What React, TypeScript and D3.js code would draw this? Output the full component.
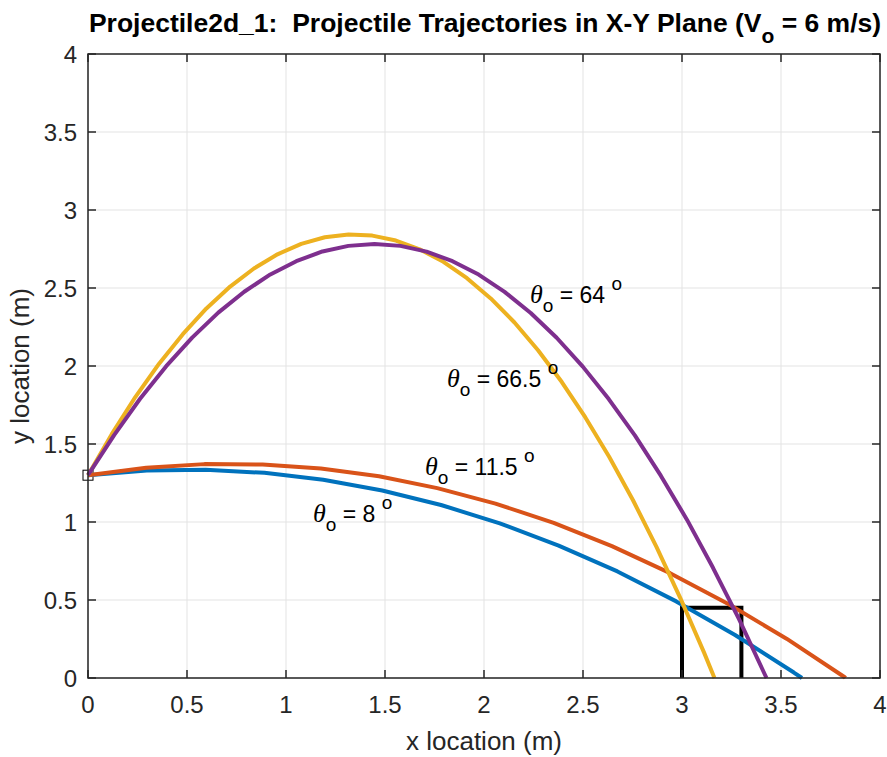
import React from 'react';
import * as d3 from 'd3';

// trajectories sampled every 0.05 s, V0 = 6 m/s, launched from y = 1.3 m
const traj8 = [
  [0, 1.3], [0.297, 1.33], [0.594, 1.335], [0.891, 1.315], [1.188, 1.271], [1.486, 1.202],
  [1.783, 1.109], [2.08, 0.991], [2.377, 0.849], [2.674, 0.683], [2.971, 0.491],
  [3.268, 0.276], [3.565, 0.035], [3.606, 0],
];
const traj11 = [
  [0, 1.3], [0.294, 1.348], [0.588, 1.371], [0.882, 1.369], [1.176, 1.343], [1.47, 1.293],
  [1.764, 1.217], [2.058, 1.118], [2.352, 0.994], [2.646, 0.845], [2.94, 0.672],
  [3.234, 0.474], [3.528, 0.252], [3.822, 0.005], [3.825, 0],
];
const traj66 = [
  [0, 1.3], [0.12, 1.563], [0.239, 1.801], [0.359, 2.015], [0.479, 2.204], [0.598, 2.369],
  [0.718, 2.509], [0.838, 2.625], [0.957, 2.716], [1.077, 2.783], [1.196, 2.825],
  [1.316, 2.843], [1.436, 2.836], [1.555, 2.804], [1.675, 2.748], [1.795, 2.668],
  [1.914, 2.563], [2.034, 2.433], [2.154, 2.279], [2.273, 2.101], [2.393, 1.897],
  [2.512, 1.67], [2.632, 1.418], [2.752, 1.141], [2.871, 0.84], [2.991, 0.514],
  [3.111, 0.164], [3.164, 0],
];
const traj64 = [
  [0, 1.3], [0.132, 1.557], [0.263, 1.79], [0.395, 1.999], [0.526, 2.182], [0.658, 2.342],
  [0.789, 2.476], [0.921, 2.587], [1.052, 2.672], [1.184, 2.734], [1.315, 2.77],
  [1.447, 2.782], [1.578, 2.77], [1.71, 2.733], [1.841, 2.672], [1.973, 2.586],
  [2.104, 2.475], [2.236, 2.34], [2.367, 2.181], [2.499, 1.996], [2.63, 1.788],
  [2.762, 1.555], [2.893, 1.297], [3.025, 1.015], [3.156, 0.708], [3.288, 0.377],
  [3.419, 0.021], [3.427, 0],
];
const series = [
  { pts: traj8, color: '#0072BD' },
  { pts: traj11, color: '#D95319' },
  { pts: traj66, color: '#EDB120' },
  { pts: traj64, color: '#7E2F8E' },
];
// landing box
const boxPts = [[3.0, 0], [3.0, 0.45], [3.3, 0.45], [3.3, 0]];
const startPt = [0, 1.3];

const labels = [
  { x: 1.136, y: 1.0, angle: '8' },
  { x: 1.702, y: 1.301, angle: '11.5' },
  { x: 2.232, y: 2.404, angle: '64' },
  { x: 1.813, y: 1.865, angle: '66.5' },
];

const xTicks = [0, 0.5, 1, 1.5, 2, 2.5, 3, 3.5, 4];
const yTicks = [0, 0.5, 1, 1.5, 2, 2.5, 3, 3.5, 4];

export default function App() {
  const W = 887, H = 757;
  const left = 88, right = 880, top = 54, bottom = 678;
  const x = d3.scaleLinear().domain([0, 4]).range([left, right]);
  const y = d3.scaleLinear().domain([0, 4]).range([bottom, top]);
  const line = d3.line<number[]>().x(d => x(d[0])).y(d => y(d[1]));
  const font = 'Arial, "Liberation Sans", Helvetica, sans-serif';
  const axisColor = '#262626';
  const tickLen = 8;

  return (
    <svg width={W} height={H} style={{ position: 'absolute', left: 0, top: 0, background: '#fff' }}
      fontFamily={font}>
      <rect x={0} y={0} width={W} height={H} fill="#fff" />
      {/* grid */}
      {xTicks.map(t => (
        <line key={'gx' + t} x1={x(t)} x2={x(t)} y1={top} y2={bottom} stroke="#e3e3e3" strokeWidth={1} />
      ))}
      {yTicks.map(t => (
        <line key={'gy' + t} x1={left} x2={right} y1={y(t)} y2={y(t)} stroke="#e3e3e3" strokeWidth={1} />
      ))}

      <path d={line(boxPts) || ''} fill="none" stroke="#000" strokeWidth={4} />
      <rect x={x(startPt[0]) - 5} y={y(startPt[1]) - 5} width={10} height={10} fill="none" stroke="#000" strokeWidth={1} />

      {series.map((s, i) => (
        <path key={i} d={line(s.pts) || ''} fill="none" stroke={s.color} strokeWidth={4}
          strokeLinejoin="round" />
      ))}

      {/* axes box */}
      <rect x={left} y={top} width={right - left} height={bottom - top} fill="none" stroke={axisColor} strokeWidth={1.5} />
      {xTicks.map(t => (
        <g key={'tx' + t}>
          <line x1={x(t)} x2={x(t)} y1={bottom} y2={bottom - tickLen} stroke={axisColor} strokeWidth={1.5} />
          <line x1={x(t)} x2={x(t)} y1={top} y2={top + tickLen} stroke={axisColor} strokeWidth={1.5} />
          <text x={x(t)} y={bottom + 35} textAnchor="middle" fontSize={24} fill={axisColor}>{String(t)}</text>
        </g>
      ))}
      {yTicks.map(t => (
        <g key={'ty' + t}>
          <line x1={left} x2={left + tickLen} y1={y(t)} y2={y(t)} stroke={axisColor} strokeWidth={1.5} />
          <line x1={right} x2={right - tickLen} y1={y(t)} y2={y(t)} stroke={axisColor} strokeWidth={1.5} />
          <text x={left - 11} y={y(t) + 8.5} textAnchor="end" fontSize={24} fill={axisColor}>{String(t)}</text>
        </g>
      ))}

      {/* angle labels */}
      {labels.map(l => (
        <text key={l.angle} x={x(l.x)} y={y(l.y)} fontSize={23} fill="#000">
          <tspan fontFamily='"Liberation Serif", "DejaVu Serif", serif' fontStyle="italic" fontSize={26}>θ</tspan>
          <tspan fontSize={19} dy={9}>o</tspan>
          <tspan dy={-9}>{' = ' + l.angle + ' '}</tspan>
          <tspan fontSize={19} dy={-13}>o</tspan>
        </text>
      ))}

      {/* title */}
      <text x={(left + right) / 2 + 1} y={32} textAnchor="middle" fontSize={26.5} fontWeight="bold" fill="#000">
        <tspan>{'Projectile2d_1:\u00a0 Projectile Trajectories in X-Y Plane (V'}</tspan>
        <tspan fontSize={21} dy={11}>o</tspan>
        <tspan dy={-11}> = 6 m/s)</tspan>
      </text>

      <text x={(left + right) / 2} y={750} textAnchor="middle" fontSize={26} fill={axisColor}>x location (m)</text>
      <text transform={`translate(29, ${(top + bottom) / 2}) rotate(-90)`} textAnchor="middle" fontSize={26} fill={axisColor}>y location (m)</text>
    </svg>
  );
}
